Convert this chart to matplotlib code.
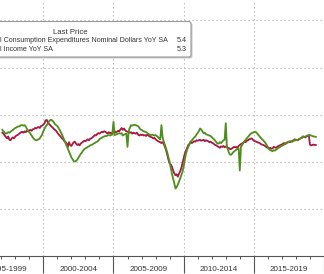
import matplotlib
matplotlib.use("Agg")
import matplotlib.pyplot as plt
from matplotlib.patches import FancyBboxPatch
import numpy as np

# ---------------- data (monthly, Jan 1997 .. May 2019) ----------------
start_year = 1997
pce_yoy = [
    6.2, 6.0, 5.6, 5.3, 5.0, 5.4, 4.7, 4.6, 5.0, 5.2, 5.0, 5.4,   # 1997
    5.6, 5.7, 5.9, 6.1, 6.3, 6.4, 6.2, 6.5, 6.3, 6.6, 6.5, 6.7,   # 1998
    6.8, 6.6, 6.9, 7.0, 7.2, 7.1, 7.3, 7.4, 7.2, 7.6, 7.7, 7.9,   # 1999
    8.2, 8.8, 8.9, 8.3, 8.0, 7.8, 7.5, 7.3, 7.0, 6.8, 6.6, 6.2,   # 2000
    5.9, 5.6, 5.3, 5.0, 4.8, 4.4, 4.2, 3.9, 3.2, 4.2, 3.6, 3.4,   # 2001
    3.8, 4.2, 4.3, 3.9, 3.6, 3.8, 3.5, 3.9, 4.1, 4.3, 4.5, 4.4,   # 2002
    4.6, 4.8, 4.6, 4.9, 5.0, 5.2, 5.4, 5.7, 5.6, 5.9, 6.1, 6.0,   # 2003
    6.2, 6.4, 6.3, 6.5, 6.4, 6.2, 6.0, 6.3, 6.1, 6.2, 6.0, 6.3,   # 2004
    6.5, 6.3, 6.4, 6.6, 6.5, 6.9, 7.2, 6.8, 7.1, 6.7, 6.5, 6.4,   # 2005
    6.4, 6.2, 6.3, 6.0, 6.2, 6.1, 6.0, 6.2, 5.8, 5.6, 5.8, 5.7,   # 2006
    5.8, 5.6, 5.7, 5.5, 5.8, 5.6, 5.4, 5.3, 5.2, 5.0, 5.1, 4.8,   # 2007
    4.6, 4.4, 4.3, 4.2, 4.0, 4.2, 3.8, 3.2, 2.5, 1.5, 0.5, -0.3,  # 2008
    -0.5, -1.0, -1.8, -2.4, -2.8, -2.6, -3.1, -2.5, -2.0, -1.3, -0.2, 0.8,  # 2009
    1.8, 2.4, 3.0, 3.6, 3.8, 4.3, 4.0, 4.2, 4.4, 4.3, 4.6, 4.5,   # 2010
    4.6, 4.7, 4.5, 4.6, 4.7, 4.4, 4.6, 4.5, 4.4, 4.2, 4.3, 4.1,   # 2011
    4.0, 3.8, 3.6, 3.5, 3.3, 3.2, 3.0, 3.3, 3.2, 3.4, 3.1, 3.3,   # 2012
    3.2, 3.0, 2.9, 2.7, 2.8, 3.0, 3.2, 3.1, 3.2, 3.0, 3.4, 3.6,   # 2013
    3.8, 3.9, 4.1, 4.3, 4.2, 4.5, 4.6, 4.8, 4.9, 5.0, 4.8, 4.5,   # 2014
    4.4, 4.3, 4.2, 4.1, 4.0, 3.8, 3.7, 3.6, 3.5, 3.3, 3.1, 3.0,   # 2015
    2.9, 3.0, 2.8, 2.9, 3.2, 3.1, 3.0, 3.2, 3.4, 3.5, 3.6, 3.7,   # 2016
    3.9, 4.0, 3.8, 4.1, 4.2, 4.3, 4.2, 4.4, 4.3, 4.6, 4.8, 4.7,   # 2017
    4.6, 4.7, 4.9, 5.0, 5.1, 5.4, 5.3, 5.2, 5.4, 5.5, 5.7, 3.7,   # 2018
    3.5, 3.6, 3.7, 3.6, 3.6,                                      # 2019
]
income_yoy = [
    6.8, 6.5, 6.2, 6.0, 6.1, 6.3, 6.2, 6.4, 6.6, 6.8, 7.0, 7.2,   # 1997
    7.3, 7.5, 7.5, 7.6, 7.8, 7.8, 7.7, 7.8, 7.5, 7.0, 6.6, 6.3,   # 1998
    6.0, 5.6, 5.2, 4.9, 4.7, 4.6, 4.7, 4.8, 5.0, 5.4, 5.8, 6.5,   # 1999
    7.0, 7.5, 7.8, 8.2, 8.6, 8.9, 8.9, 8.7, 8.4, 8.0, 7.8, 7.6,   # 2000
    7.2, 6.8, 6.3, 5.8, 5.2, 4.6, 4.0, 3.4, 2.8, 2.2, 1.6, 1.0,   # 2001
    0.6, 0.2, 0.1, 0.2, 0.5, 0.9, 1.3, 1.7, 2.0, 2.4, 2.7, 2.9,   # 2002
    3.0, 3.2, 3.3, 3.5, 3.6, 3.7, 3.9, 4.0, 4.2, 4.3, 4.5, 4.8,   # 2003
    5.0, 5.1, 5.3, 5.4, 5.5, 5.5, 5.6, 5.7, 5.6, 5.7, 5.8, 8.5,   # 2004
    5.7, 5.8, 5.9, 6.0, 6.1, 6.0, 6.1, 5.6, 5.8, 5.9, 6.0, 3.2,   # 2005
    6.6, 7.2, 7.8, 7.7, 7.8, 7.9, 7.8, 7.7, 7.6, 7.3, 6.9, 6.8,   # 2006
    6.6, 6.5, 6.4, 6.3, 6.1, 5.9, 5.8, 5.7, 5.8, 5.7, 5.6, 5.7,   # 2007
    5.5, 5.3, 5.0, 4.8, 7.8, 5.2, 4.3, 3.6, 2.8, 2.0, 1.0, 0.0,   # 2008
    -1.3, -2.5, -3.5, -4.5, -5.6, -5.3, -4.8, -4.2, -3.5, -2.8, -2.1, -1.0,  # 2009
    0.5, 1.8, 2.6, 3.2, 3.8, 4.3, 4.6, 4.9, 5.2, 5.4, 5.8, 6.2,   # 2010
    6.5, 7.1, 6.9, 6.5, 6.1, 6.2, 5.9, 5.8, 5.7, 5.6, 5.5, 5.3,   # 2011
    5.0, 4.8, 4.5, 4.2, 3.9, 3.9, 4.2, 4.0, 4.3, 4.6, 4.7, 8.2,   # 2012
    3.2, 2.5, 1.8, 1.5, 1.6, 2.0, 2.2, 2.4, 2.6, 2.8, 2.9, -1.8,  # 2013
    3.2, 3.6, 4.0, 4.4, 4.7, 5.0, 5.3, 5.6, 5.9, 6.1, 6.2, 6.3,   # 2014
    6.4, 6.3, 6.0, 5.7, 5.4, 5.1, 4.8, 4.6, 4.3, 4.0, 3.6, 3.2,   # 2015
    2.7, 2.5, 2.4, 2.3, 2.5, 2.4, 2.6, 2.8, 3.0, 3.1, 3.3, 3.4,   # 2016
    3.6, 3.7, 3.9, 4.0, 4.1, 4.3, 4.4, 4.3, 4.5, 4.6, 4.5, 4.7,   # 2017
    4.6, 4.7, 4.9, 5.0, 5.2, 5.4, 5.3, 5.4, 5.5, 5.6, 5.6, 5.7,   # 2018
    5.6, 5.5, 5.4, 5.4, 5.3,                                      # 2019
]
period_labels = ["1995-1999", "2000-2004", "2005-2009", "2010-2014", "2015-2019"]
period_starts = [1995, 2000, 2005, 2010, 2015]
legend_title = "Last Price"
legend_names = ["l Consumption Expenditures Nominal Dollars YoY SA",
                "l Income YoY SA"]
legend_values = ["5.4", "5.3"]

# ---------------- figure ----------------
W, H = 324, 274
DPI = 100
fig = plt.figure(figsize=(W / DPI, H / DPI), dpi=DPI)
plt.rcParams['font.family'] = ['Liberation Sans', 'DejaVu Sans']

ax_bottom_px = 256
ax = fig.add_axes([0, (H - ax_bottom_px) / H, 1, ax_bottom_px / H])

px_per_year = 14.33
x_left = 2000 - 44.2 / px_per_year
x_right = x_left + W / px_per_year
ax.set_xlim(x_left, x_right)

px_per_unit = 4.725
zero_px = 162  # from top
ax.set_ylim(-(ax_bottom_px - zero_px) / px_per_unit, zero_px / px_per_unit)

t = np.array([start_year + (i + 1) / 12 for i in range(len(pce_yoy))])
t2 = np.array([start_year + (i + 1) / 12 for i in range(len(income_yoy))])

red = "#a8193f"
green = "#4e8e1c"
ax.plot(t, pce_yoy, color=red, lw=1.3, zorder=3)
ax.plot(t2, income_yoy, color=green, lw=1.3, zorder=4)

# grid
grid_kw = dict(color="#b8b8b8", lw=0.8, ls=(0, (1.2, 2.4)), zorder=1)
for v in [-10, 0, 10, 20, 30]:
    ax.axhline(v, **grid_kw)
for s in period_starts[1:]:
    ax.axvline(s, **grid_kw)

# axes style
for sp in ["left", "right", "top"]:
    ax.spines[sp].set_visible(False)
ax.spines["bottom"].set_color("#555555")
ax.spines["bottom"].set_linewidth(0.8)
ax.set_yticks([])
ax.set_xticks(period_starts[1:] + [2020])
ax.set_xticklabels([])
ax.tick_params(axis="x", which="major", length=12.5, width=0.8, color="#555555", direction="out")
ax.set_xticks(list(range(1997, 2020)), minor=True)
ax.tick_params(axis="x", which="minor", length=2.3, width=0.7, color="#555555", direction="out")

sec = ax.secondary_xaxis("bottom")
sec.set_xticks([s + 2.5 for s in period_starts], period_labels)
sec.tick_params(length=0, pad=7.2, labelsize=5.8, labelcolor="#333333")
sec.spines["bottom"].set_visible(False)

# legend box (figure pixel coordinates, y measured from top)
def fx(x):
    return x / W

def fy(y):
    return 1 - y / H

box_l, box_r, box_t, box_b = -10, 191, 21.5, 57
shadow = FancyBboxPatch((fx(box_l + 1.5), fy(box_b + 1.5)), fx(box_r - box_l), (box_b - box_t) / H,
                        boxstyle="round,pad=0,rounding_size=0.008", transform=fig.transFigure,
                        facecolor="#c8c8c8", edgecolor="none", zorder=9)
box = FancyBboxPatch((fx(box_l), fy(box_b)), fx(box_r - box_l), (box_b - box_t) / H,
                     boxstyle="round,pad=0,rounding_size=0.008", transform=fig.transFigure,
                     facecolor="white", edgecolor="#9a9a9a", lw=0.8, zorder=10)
fig.patches.extend([shadow, box])

tkw = dict(fontsize=5.15, color="#333333", zorder=11)
fig.text(fx(70), fy(32), legend_title, ha="center", va="center", fontsize=5.6,
         color="#333333", zorder=11)
for i, (name, val) in enumerate(zip(legend_names, legend_values)):
    yy = fy(40.5 + i * 9)
    fig.text(fx(0.5), yy, name, ha="left", va="center", **tkw)
    fig.text(fx(187), yy, val, ha="right", va="center", **tkw)

fig.savefig("out.png", dpi=DPI)
